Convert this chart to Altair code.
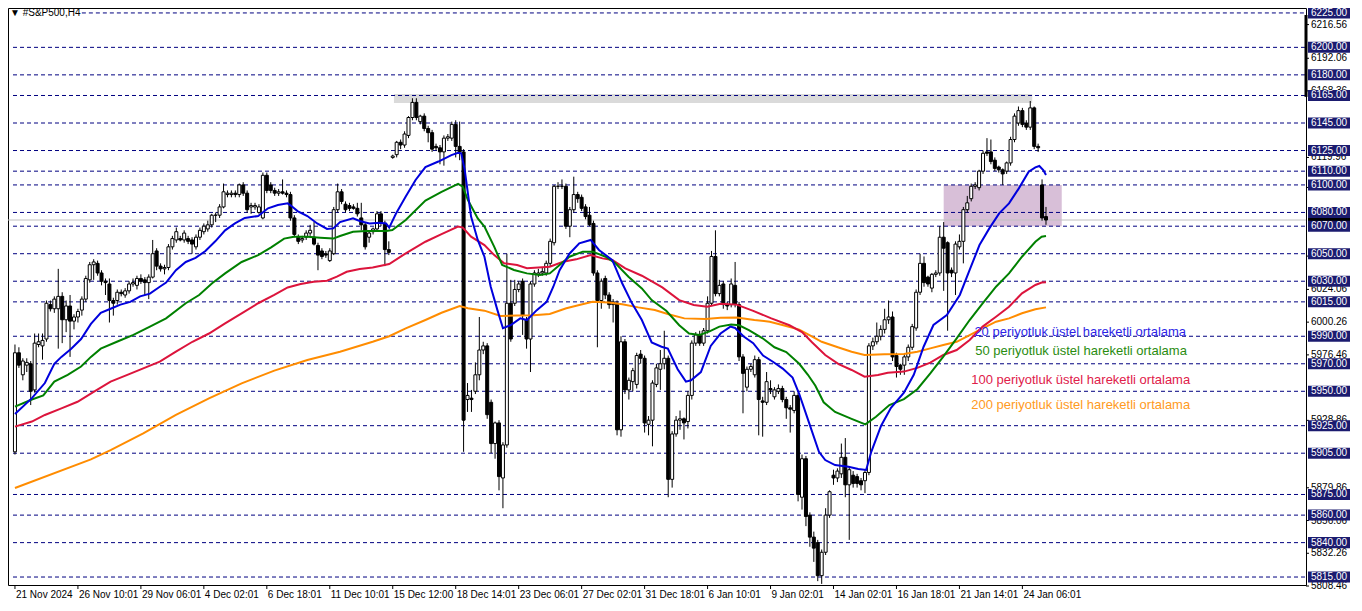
import altair as alt
import pandas as pd

# ---------------- candles (H4 bars, index 0..262) ----------------
opens = [
    5906, 5978, 5962, 5969, 5970, 5951, 5984, 5983, 5988, 6013,
    6010, 6010, 6019, 6002, 6012, 6001, 6004, 6009, 6017, 6031,
    6042, 6043, 6036, 6030, 6028, 6016, 6016, 6022, 6020, 6023,
    6028, 6027, 6032, 6031, 6029, 6033, 6052, 6041, 6039, 6040,
    6055, 6060, 6061, 6060, 6061, 6060, 6055, 6062, 6066, 6068,
    6071, 6078, 6078, 6084, 6093, 6093, 6094, 6093, 6100, 6094,
    6084, 6084, 6080, 6076, 6107, 6100, 6096, 6094, 6095, 6094,
    6093, 6076, 6062, 6060, 6062, 6065, 6062, 6056, 6052, 6050,
    6045, 6050, 6082, 6095, 6086, 6085, 6084, 6083, 6076, 6071,
    6062, 6066, 6068, 6079, 6072, 6053, 6120, 6122, 6131, 6129,
    6136, 6149, 6160, 6146, 6150, 6141, 6138, 6128, 6127, 6124,
    6134, 6134, 6144, 6128, 6124, 5944, 5945, 5950, 5962, 5980,
    5983, 5942, 5912, 5927, 5887, 5911, 6014, 6014, 6024, 6030,
    6002, 5988, 6028, 6035, 6036, 6036, 6043, 6058, 6099, 6099,
    6099, 6070, 6082, 6093, 6091, 6084, 6078, 6072, 6036, 6016,
    6032, 6020, 6013, 6014, 5922, 5986, 5951, 5957, 5955, 5977,
    5974, 5926, 5929, 5955, 5966, 5970, 5974, 5886, 5919, 5929,
    5930, 5928, 5947, 5985, 5991, 5985, 5994, 6014, 6048, 6021,
    6028, 6013, 6013, 6027, 6013, 5975, 5953, 5966, 5962, 5973,
    5943, 5942, 5952, 5946, 5950, 5952, 5944, 5938, 5936, 5947,
    5873, 5901, 5860, 5844, 5840, 5816, 5833, 5860, 5889, 5887,
    5890, 5902, 5882, 5889, 5888, 5885, 5885, 5891, 5983, 5986,
    5990, 5995, 6002, 6004, 5976, 5969, 5969, 5975, 5982, 5996,
    6022, 6043, 6033, 6025, 6035, 6036, 6062, 6058, 6038, 6036,
    6055, 6059, 6082, 6090, 6099, 6098, 6110, 6124, 6124, 6118,
    6113, 6111, 6110, 6116, 6133, 6145, 6154, 6145, 6142, 6156,
    6128, 6100, 6077,
]
highs = [
    5984, 5982, 5974, 5974, 5972, 5992, 5992, 5992, 6016, 6016,
    6019, 6039, 6022, 6016, 6020, 6006, 6010, 6019, 6034, 6044,
    6046, 6045, 6038, 6032, 6032, 6018, 6024, 6024, 6025, 6030,
    6032, 6034, 6035, 6033, 6035, 6060, 6054, 6043, 6042, 6057,
    6063, 6069, 6063, 6067, 6063, 6062, 6064, 6069, 6072, 6074,
    6079, 6080, 6086, 6101, 6096, 6096, 6096, 6101, 6102, 6096,
    6087, 6087, 6086, 6109, 6109, 6102, 6098, 6097, 6104, 6096,
    6095, 6078, 6064, 6063, 6067, 6071, 6073, 6058, 6054, 6052,
    6054, 6084, 6101, 6097, 6088, 6087, 6086, 6087, 6087, 6073,
    6066, 6069, 6081, 6081, 6074, 6059, 6122, 6132, 6133, 6139,
    6150, 6163, 6163, 6151, 6152, 6143, 6140, 6130, 6129, 6136,
    6137, 6146, 6147, 6146, 6126, 5956, 5951, 5971, 6004, 5986,
    5985, 5944, 5928, 5929, 5913, 6050, 6031, 6031, 6030, 6032,
    6004, 6030, 6038, 6039, 6040, 6045, 6061, 6100, 6102, 6104,
    6101, 6084, 6106, 6095, 6093, 6086, 6084, 6074, 6038, 6032,
    6034, 6022, 6017, 6016, 5990, 5988, 5960, 5967, 5978, 5980,
    5976, 5932, 5958, 5970, 5980, 5994, 5976, 5921, 5932, 5936,
    5931, 5950, 5987, 5993, 5994, 5996, 6019, 6052, 6067, 6031,
    6030, 6015, 6032, 6044, 6015, 5977, 5968, 5970, 5976, 5975,
    5946, 5964, 5958, 5953, 5955, 5954, 5946, 5940, 5950, 5949,
    5904, 5903, 5862, 5848, 5842, 5835, 5865, 5878, 5893, 5894,
    5912, 5916, 5895, 5892, 5890, 5887, 5893, 5985, 5989, 6000,
    5998, 6010, 6016, 6008, 5978, 5970, 5977, 5984, 5999, 6024,
    6050, 6048, 6034, 6036, 6038, 6070, 6073, 6059, 6040, 6059,
    6064, 6084, 6092, 6101, 6102, 6111, 6125, 6134, 6133, 6120,
    6114, 6112, 6117, 6135, 6152, 6157, 6156, 6147, 6161, 6157,
    6130, 6104, 6084,
]
lows = [
    5904, 5967, 5958, 5964, 5940, 5949, 5982, 5973, 5986, 6008,
    6007, 5981, 5985, 5993, 5975, 5995, 6000, 6005, 6015, 6029,
    6031, 6034, 6027, 6020, 6000, 6005, 6013, 6019, 6018, 6021,
    6026, 6024, 6028, 6020, 6017, 6032, 6038, 6037, 6035, 6038,
    6053, 6058, 6059, 6058, 6057, 6050, 6053, 6060, 6064, 6066,
    6069, 6073, 6076, 6083, 6091, 6091, 6091, 6091, 6092, 6080,
    6079, 6082, 6079, 6075, 6094, 6094, 6092, 6092, 6093, 6091,
    6074, 6062, 6057, 6058, 6060, 6063, 6056, 6038, 6046, 6047,
    6044, 6049, 6080, 6086, 6080, 6081, 6082, 6077, 6067, 6053,
    6058, 6064, 6066, 6070, 6041, 6049, 6119, 6120, 6126, 6127,
    6134, 6147, 6147, 6144, 6139, 6131, 6124, 6125, 6115, 6114,
    6132, 6132, 6120, 6118, 5906, 5935, 5935, 5948, 5958, 5977,
    5930, 5905, 5901, 5878, 5865, 5909, 5986, 6012, 6022, 5991,
    5981, 5964, 6026, 6033, 6034, 6034, 6041, 6056, 6097, 6097,
    6068, 6062, 6080, 6087, 6081, 6075, 6070, 6034, 5982, 6010,
    6017, 6010, 6000, 5918, 5917, 5948, 5944, 5950, 5952, 5970,
    5920, 5918, 5910, 5953, 5951, 5966, 5873, 5880, 5917, 5922,
    5915, 5923, 5944, 5983, 5983, 5983, 5992, 6012, 6019, 6019,
    6010, 6009, 6011, 6011, 5972, 5934, 5950, 5964, 5960, 5918,
    5917, 5940, 5948, 5944, 5948, 5942, 5930, 5920, 5934, 5870,
    5864, 5852, 5837, 5826, 5812, 5810, 5831, 5858, 5882, 5884,
    5887, 5873, 5842, 5880, 5880, 5878, 5876, 5889, 5980, 5984,
    5987, 5992, 5999, 5972, 5960, 5962, 5962, 5972, 5980, 5994,
    6020, 6026, 6026, 6022, 6033, 6034, 6023, 5994, 6033, 6020,
    6053, 6043, 6080, 6088, 6097, 6096, 6108, 6121, 6115, 6110,
    6109, 6100, 6108, 6114, 6131, 6143, 6142, 6140, 6140, 6126,
    6124, 6074, 6071,
]
closes = [
    5978, 5969, 5972, 5971, 5950, 5985, 5986, 5987, 6014, 6010,
    6017, 6019, 6002, 6012, 6001, 6004, 6008, 6017, 6032, 6042,
    6044, 6036, 6030, 6029, 6016, 6014, 6022, 6021, 6023, 6028,
    6029, 6032, 6030, 6029, 6033, 6050, 6041, 6039, 6040, 6055,
    6061, 6066, 6060, 6065, 6059, 6057, 6062, 6067, 6070, 6071,
    6078, 6078, 6084, 6095, 6094, 6094, 6093, 6100, 6094, 6082,
    6085, 6085, 6084, 6107, 6096, 6096, 6094, 6095, 6094, 6093,
    6076, 6064, 6059, 6061, 6065, 6067, 6057, 6049, 6048, 6049,
    6052, 6082, 6095, 6088, 6082, 6083, 6083, 6079, 6071, 6055,
    6065, 6068, 6079, 6072, 6053, 6051, 6121, 6131, 6129, 6137,
    6149, 6160, 6149, 6150, 6141, 6138, 6126, 6127, 6124, 6134,
    6135, 6144, 6128, 6124, 5929, 5947, 5944, 5962, 5980, 5983,
    5933, 5912, 5927, 5888, 5911, 6014, 5988, 6024, 6028, 6005,
    5988, 6028, 6036, 6036, 6037, 6043, 6059, 6099, 6099, 6099,
    6070, 6082, 6093, 6090, 6083, 6077, 6071, 6036, 6016, 6030,
    6020, 6013, 6015, 5922, 5986, 5951, 5958, 5965, 5976, 5974,
    5927, 5929, 5956, 5967, 5970, 5974, 5886, 5919, 5929, 5930,
    5927, 5947, 5985, 5991, 5985, 5994, 6014, 6048, 6021, 6027,
    6013, 6012, 6028, 6013, 5975, 5963, 5966, 5968, 5973, 5944,
    5942, 5957, 5951, 5951, 5952, 5944, 5938, 5937, 5947, 5875,
    5901, 5859, 5844, 5836, 5816, 5833, 5860, 5877, 5887, 5892,
    5902, 5882, 5893, 5883, 5883, 5882, 5891, 5983, 5986, 5990,
    5995, 6002, 6004, 5975, 5968, 5966, 5975, 5982, 5997, 6022,
    6043, 6029, 6028, 6035, 6036, 6062, 6054, 6036, 6036, 6057,
    6059, 6082, 6087, 6099, 6100, 6110, 6123, 6123, 6117, 6112,
    6111, 6108, 6116, 6133, 6150, 6154, 6144, 6142, 6156, 6128,
    6127, 6076, 6074.5,
]

# ---------------- moving averages as (bar, value) ----------------
ema20 = [(0, 5933.5), (4.3, 5945), (7.6, 5956), (10, 5970), (11.8, 5975), (14.3, 5981), (16.8, 5988),
         (19.3, 5999), (21.8, 6007), (24.3, 6010), (26.8, 6013), (29.3, 6015), (31.8, 6019), (34.3, 6021),
         (36.8, 6026), (38.4, 6029), (40.9, 6038), (43.4, 6044), (45.9, 6047), (48.4, 6052), (50.9, 6059),
         (53.4, 6067), (55.9, 6072), (58.4, 6076), (61.8, 6077.4), (64.3, 6083), (66.8, 6085.4), (69.3, 6086.6),
         (70.1, 6085), (71.8, 6081), (74.3, 6077.4), (76.8, 6072), (79.3, 6068), (80.9, 6068.4), (82.6, 6073),
         (85.9, 6075.7), (87.6, 6073.8), (90.1, 6072), (92.6, 6072.5), (94.3, 6072), (95.1, 6069), (96.8, 6079),
         (99.3, 6091.5), (101.8, 6103.6), (104.3, 6113), (107.6, 6117), (110.9, 6121.7), (112.6, 6123.4),
         (113.4, 6123), (114.3, 6110.8), (115.9, 6077), (117.6, 6060), (119.3, 6047.8), (120.9, 6026),
         (122.6, 6009), (124.0, 5995.8), (125.9, 5998), (128.4, 6003), (130.1, 6001.8), (132.6, 6009),
         (135.1, 6015), (136.8, 6026), (138.4, 6038), (140.9, 6050), (143.4, 6057.5), (146.3, 6060),
         (148.4, 6052.7), (151.8, 6045.4), (154.3, 6028.5), (156.8, 6013.9), (159.3, 6001.8), (161.8, 5985.5),
         (164.3, 5982.4), (165.9, 5981), (168.4, 5966), (170.5, 5957), (171.8, 5958), (174.3, 5964),
         (176.8, 5983), (179.3, 5992), (181.8, 5997), (183.0, 5996), (185.1, 5990), (187.6, 5985),
         (190.1, 5976), (192.6, 5971.5), (195.1, 5966.5), (197.6, 5960), (199.3, 5948), (201.8, 5927),
         (204.3, 5906), (205.9, 5900), (208.4, 5896.4), (211.8, 5895.2), (214.3, 5893.5), (216.3, 5892.8),
         (217.6, 5906), (220.1, 5925), (222.6, 5938), (225.9, 5949), (228.4, 5962), (230.9, 5982.4),
         (233.4, 5998.2), (236.8, 6005.5), (240.1, 6020), (242.6, 6038.2), (245.1, 6056.3), (247.6, 6068.4),
         (250.1, 6079.3), (252.6, 6086.6), (255.1, 6097.5), (257.6, 6109.6), (259.3, 6112.8), (260.3, 6113.8),
         (261.3, 6110.8), (262.0, 6107.2)]
ema50 = [(0, 5938.8), (4.3, 5944), (7.2, 5947), (10, 5957), (13.4, 5962), (16.8, 5968), (19.3, 5975),
         (21.8, 5981), (25.9, 5986), (30.1, 5991), (34.3, 5997), (38.4, 6003), (43.4, 6014), (46.8, 6020),
         (50.1, 6028.5), (53.4, 6035.7), (57.6, 6044), (61.8, 6049), (65.1, 6054.6), (68.4, 6061),
         (70.9, 6062.4), (74.3, 6062.4), (77.6, 6061.6), (80.9, 6061), (82.6, 6062.9), (85.9, 6066),
         (89.3, 6066.5), (94.3, 6066.5), (95.9, 6067.2), (99.3, 6074.5), (104.3, 6088.6), (108.4, 6095),
         (112.6, 6100.7), (113.8, 6098.7), (115.1, 6089), (117.6, 6075.7), (119.3, 6069.7), (121.8, 6055),
         (123.8, 6041.8), (126.8, 6038.2), (130.1, 6035.7), (133.4, 6034.5), (135.9, 6035.7), (138.4, 6041.8),
         (140.9, 6047.8), (144.3, 6051.5), (146.8, 6051.5), (150.1, 6047.8), (152.6, 6043), (155.9, 6033.3),
         (159.3, 6024.8), (161.8, 6016.3), (165.5, 6008.5), (168.8, 5998), (171.3, 5992), (174, 5991),
         (176.5, 5993.5), (179, 5997), (182, 5998.5), (184, 5998), (186.5, 5994.5), (190, 5988.5),
         (193, 5982), (196, 5978.5), (199.3, 5970), (201.5, 5962), (203.4, 5954), (205.5, 5942),
         (208.4, 5935), (212.6, 5930), (216.1, 5926), (218.8, 5931.5), (222.2, 5940), (225.9, 5944.3),
         (229.3, 5951.5), (232.6, 5963), (235.9, 5975.2), (239.3, 5988.5), (242.6, 6001.8), (245.9, 6013.9),
         (249.3, 6026), (252.6, 6035.7), (255.9, 6047.8), (259.3, 6058.7), (260.9, 6062.4), (262, 6062.9)]
ema100 = [(0, 5924.3), (4.3, 5928), (7.6, 5932.8), (11.8, 5937.6), (15.9, 5942.4), (20.1, 5949.7),
          (24.3, 5957), (28.4, 5961.8), (32.6, 5966.7), (36.8, 5971.5), (40.9, 5978.8), (45.1, 5986),
          (49.3, 5992), (53.4, 5999.4), (57.6, 6006.7), (61.8, 6014), (65.9, 6020), (69.3, 6025.5),
          (72.6, 6028), (75.9, 6029.7), (79.3, 6030.4), (81.8, 6033.3), (84.3, 6036.9), (87.6, 6038.9),
          (90.9, 6040), (95.1, 6042.5), (99.3, 6050.3), (104.3, 6058.7), (108.4, 6064.3), (112.6, 6069.7),
          (113.8, 6069), (115.9, 6062.4), (119.3, 6056.3), (121.8, 6049), (124.3, 6043), (127.6, 6041.8),
          (130.1, 6039.4), (135.9, 6040.6), (139.3, 6044.2), (142.6, 6045.9), (146.3, 6049), (149.3, 6046.6),
          (151.8, 6045.4), (155.1, 6039.4), (159.3, 6034), (164.5, 6025.5), (168.8, 6016.3), (172.5, 6012.7),
          (175.9, 6011.5), (179.3, 6013.6), (183.4, 6013), (187.6, 6008.5), (192.2, 6003), (196.8, 5998),
          (200, 5993), (202.6, 5985.5), (205.9, 5976.4), (209.3, 5969.7), (212.6, 5965.5), (215.9, 5960.6),
          (219.3, 5961.8), (221.8, 5963.5), (225.9, 5964.3), (229.3, 5967), (232.6, 5970.8), (235.9, 5976.4),
          (239.3, 5980), (242.6, 5987.3), (245.9, 5997), (249.3, 6004.2), (252.6, 6011.5), (255.9, 6021.2),
          (259.3, 6027.3), (260.9, 6029), (262, 6029.2)]
ema200 = [(0, 5879.7), (19.3, 5900.5), (24.3, 5907.3), (32.6, 5919.4), (40.9, 5932.8), (49.3, 5944.9),
          (57.6, 5955.8), (65.9, 5965), (74.3, 5972.7), (82.6, 5978.8), (90.9, 5986), (95.1, 5990),
          (99.3, 5995.7), (104.3, 6001.8), (108.4, 6007.1), (113, 6012), (115.1, 6010.3), (119.3, 6008.6),
          (123.4, 6004.7), (127.6, 6005), (131.8, 6005.2), (135.9, 6006.2), (140.1, 6010.3), (143.4, 6012.7),
          (146.8, 6015.1), (150.9, 6014.6), (154.3, 6013.2), (158.4, 6011), (162.6, 6009.1), (166.3, 6005.8),
          (170.1, 6003), (175.5, 6002.5), (179.3, 6003.5), (183.4, 6003.6), (187.9, 6001.8), (191.8, 6000.6),
          (195, 5998.2), (199.3, 5994.8), (202.6, 5989.7), (205, 5986), (209.3, 5981.8), (212.6, 5978.8),
          (215.9, 5976.4), (220.9, 5976.9), (225.9, 5977.1), (229.3, 5978.8), (232.6, 5981.2), (235.9, 5983.6),
          (239.3, 5986), (242.6, 5990.9), (245.9, 5995.8), (249.3, 6000.6), (252.6, 6003), (255.9, 6006.7),
          (259.3, 6009.6), (262, 6011)]

# ---------------- texts / levels ----------------
date_bars = [0, 16, 32, 48, 64, 80, 96, 112, 128, 144, 160, 176, 192, 208, 224, 240, 256]
date_labels = ["21 Nov 2024", "26 Nov 10:01", "29 Nov 06:01", "4 Dec 02:01", "6 Dec 18:01",
               "11 Dec 10:01", "15 Dec 12:00", "18 Dec 14:01", "23 Dec 06:01", "27 Dec 02:01",
               "31 Dec 18:01", "6 Jan 10:01", "9 Jan 02:01", "14 Jan 02:01", "16 Jan 18:01",
               "21 Jan 14:01", "24 Jan 06:01"]
level_prices = [6225, 6200, 6180, 6165, 6145, 6125, 6110, 6100, 6080, 6070, 6050, 6030, 6015,
                5990, 5970, 5950, 5925, 5905, 5875, 5860, 5840, 5815]
level_starts = [17] + [-0.5] * 21
scale_prices = [6216.56, 6192.06, 6168.36, 6119.96, 6098.16, 6048.26, 6024.06,
                6000.26, 5976.46, 5928.86, 5879.86, 5856.06, 5832.26, 5808.46]
legend_texts = ["20 periyotluk üstel hareketli ortalama", "50 periyotluk üstel hareketli ortalama",
                "100 periyotluk üstel hareketli ortalama", "200 periyotluk üstel hareketli ortalama"]
legend_bars = [243.8, 244.0, 243.0, 243.0]
legend_prices = [5993.1, 5979.3, 5958.2, 5940.0]
zone_bar0 = [96.3, 236.0]
zone_bar1 = [258.5, 266.0]
zone_low = [6159.6, 6070.0]
zone_high = [6166.1, 6100.0]
title_text = "▼ #S&P500,H4"

# ---------------- styling ----------------
W, H = 1298, 577
FONT = "Liberation Sans"
NAVY = "#1b1b6f"
ZONE_COLORS = ["#dadada", "#d8bfd8"]
LEGEND_COLORS = ["#2d1fe6", "#2a8c10", "#e0204a", "#ff9a22"]
xs = alt.Scale(domain=[-0.5, 326.8], nice=False, zero=False)
ys = alt.Scale(domain=[5809.2, 6228.6], nice=False, zero=False)


def X(f):
    return alt.X(f, type="quantitative", scale=xs, axis=None)


def Y(f):
    return alt.Y(f, type="quantitative", scale=ys, axis=None)


cdf = pd.DataFrame({"i": list(range(len(closes))), "o": opens, "h": highs, "l": lows, "c": closes})

zone_layers = []
for k in range(len(zone_bar0)):
    zd = pd.DataFrame({"x0": [zone_bar0[k]], "x1": [zone_bar1[k]], "p0": [zone_low[k]], "p1": [zone_high[k]]})
    zone_layers.append(alt.Chart(zd).mark_rect(color=ZONE_COLORS[k]).encode(
        x=X("x0"), x2="x1", y=Y("p0"), y2="p1"))

grid_df = pd.DataFrame({"p": level_prices, "x0": level_starts})
grid = alt.Chart(grid_df).mark_rule(color="#000080", strokeDash=[4, 3], strokeWidth=1).encode(
    x=X("x0"), x2=alt.value(W), y=Y("p"))

bid_df = pd.DataFrame({"p": [closes[-1]]})
bid = alt.Chart(bid_df).mark_rule(color="#c0c0c0", strokeWidth=1).encode(
    x=alt.value(0), x2=alt.value(W), y=Y("p"))

wicks = alt.Chart(cdf).mark_rule(color="black", strokeWidth=1).encode(x=X("i"), y=Y("l"), y2="h")
bodies = alt.Chart(cdf).mark_bar(size=3, stroke="black", strokeWidth=1).encode(
    x=X("i"), y=Y("o"), y2="c",
    fill=alt.condition(alt.datum.c >= alt.datum.o, alt.value("white"), alt.value("black")))


def ema_layer(pairs, color):
    d = pd.DataFrame(pairs, columns=["b", "v"])
    return alt.Chart(d).mark_line(color=color, strokeWidth=2).encode(x=X("b"), y=Y("v"), order="b:Q")


e200 = ema_layer(ema200, "#ff8c00")
e100 = ema_layer(ema100, "#dc143c")
e50 = ema_layer(ema50, "#008000")
e20 = ema_layer(ema20, "#0000dd")

legend_layers = []
for k in range(len(legend_texts)):
    ld = pd.DataFrame({"t": [legend_texts[k]], "b": [legend_bars[k]], "p": [legend_prices[k]]})
    legend_layers.append(alt.Chart(ld).mark_text(
        align="left", baseline="middle", fontSize=13, font=FONT, color=LEGEND_COLORS[k]).encode(
        x=X("b"), y=Y("p"), text="t:N"))

title = alt.Chart(pd.DataFrame({"t": [title_text]})).mark_text(
    align="left", baseline="middle", fontSize=10, font=FONT, color="black").encode(
    x=alt.value(2), y=alt.value(5), text="t:N")

thick = alt.Chart(pd.DataFrame({"a": [6223.5], "b": [6164.0]})).mark_rule(color="black", strokeWidth=3).encode(
    x=alt.value(W), y=Y("a"), y2="b")

sdf = pd.DataFrame({"p": scale_prices, "t": [f"{v:.2f}" for v in scale_prices]})
sticks = alt.Chart(sdf).mark_rule(color="black").encode(x=alt.value(W), x2=alt.value(W + 3), y=Y("p"))
slabels = alt.Chart(sdf).mark_text(align="left", baseline="middle", fontSize=10, font=FONT, color="black").encode(
    x=alt.value(W + 5), y=Y("p"), text="t:N")

cur_df = pd.DataFrame({"p": [closes[-1]]})
cur_box = alt.Chart(cur_df).transform_calculate(a="datum.p + 4", b="datum.p - 4").mark_rect(color="black").encode(
    x=alt.value(W + 2), x2=alt.value(W + 44), y=Y("a"), y2="b:Q")

ldf = pd.DataFrame({"p": level_prices, "t": [f"{v:.2f}" for v in level_prices]})
lbox = alt.Chart(ldf).transform_calculate(a="datum.p + 4", b="datum.p - 4").mark_rect(color=NAVY).encode(
    x=alt.value(W + 2), x2=alt.value(W + 44), y=Y("a"), y2="b:Q")
ltext = alt.Chart(ldf).mark_text(align="center", baseline="middle", fontSize=10, font=FONT, color="white").encode(
    x=alt.value(W + 23), y=Y("p"), text="t:N")

ddf = pd.DataFrame({"b": date_bars, "t": date_labels})
dticks = alt.Chart(ddf).mark_rule(color="black").encode(x=X("b"), y=alt.value(H), y2=alt.value(H + 4))
dtext = alt.Chart(ddf).mark_text(align="left", baseline="middle", fontSize=10, font=FONT, color="black", dx=1).encode(
    x=X("b"), y=alt.value(H + 10), text="t:N")

chart = alt.layer(
    *zone_layers, grid, bid, wicks, bodies, e200, e100, e50, e20, *legend_layers, title,
    thick, sticks, slabels, cur_box, lbox, ltext, dticks, dtext
).properties(
    width=W, height=H,
    autosize=alt.AutoSizeParams(type="none"),
    padding={"left": 0, "top": 0, "right": 46, "bottom": 15},
).configure_view(stroke="black", strokeWidth=1)

chart.save("out.html", embed_options={"renderer": "svg", "actions": False})
